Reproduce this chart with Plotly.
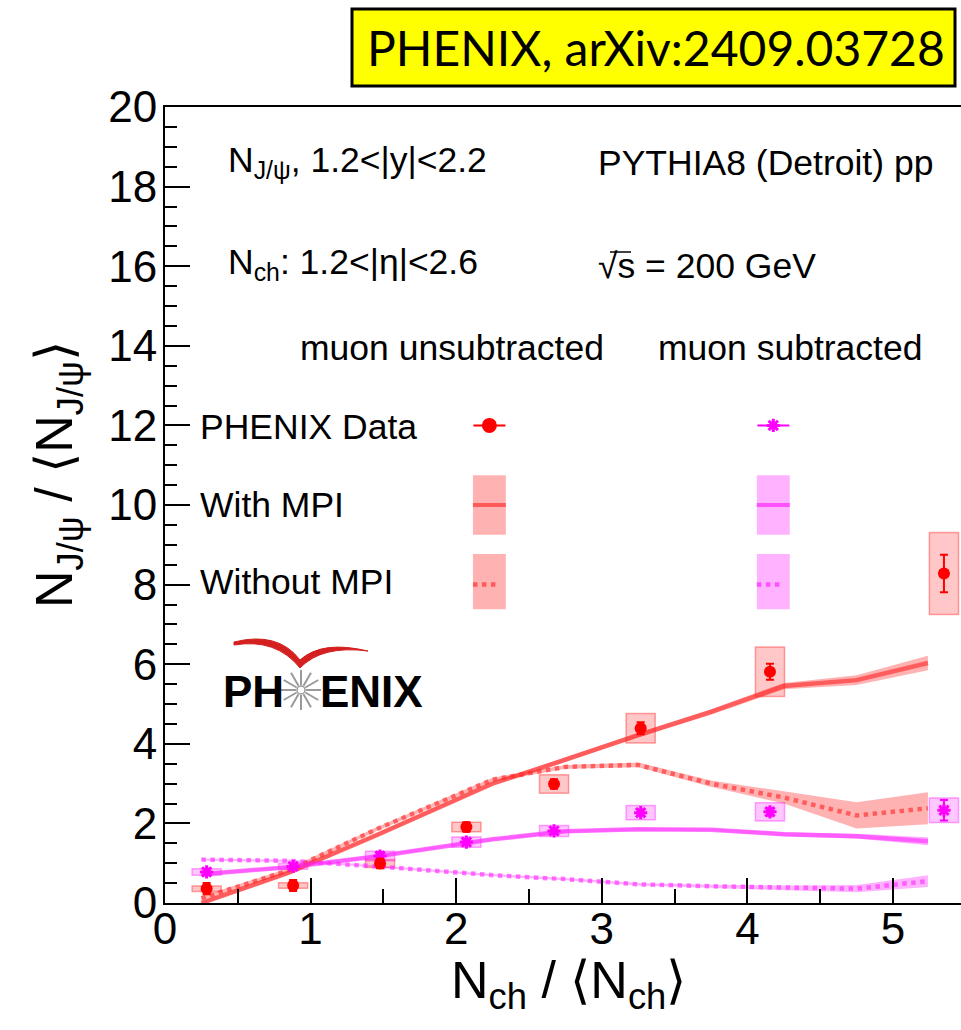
import plotly.graph_objects as go
import math

# ---------------- data ----------------
x_data = [0.286, 0.88, 1.477, 2.07, 2.672, 3.267, 4.155, 5.35]
red_y = [0.36, 0.44, 0.99, 1.91, 2.99, 4.39, 5.81, 8.28]
red_stat = [0.14, 0.14, 0.12, 0.12, 0.12, 0.15, 0.2, 0.47]
red_sys = [0.07, 0.07, 0.1, 0.12, 0.23, 0.37, 0.62, 1.03]
mag_y = [0.78, 0.92, 1.18, 1.53, 1.81, 2.27, 2.29, 2.33]
mag_stat = [0.08, 0.06, 0.1, 0.08, 0.06, 0.08, 0.1, 0.26]
mag_sys = [0.08, 0.07, 0.12, 0.13, 0.14, 0.18, 0.23, 0.31]
box_hw = 0.1

x_model = [0.25, 0.85, 1.45, 2.25, 2.75, 3.25, 3.75, 4.25, 4.75, 5.24]
red_mpi = [0.0, 0.76, 1.7, 3.0, 3.6, 4.22, 4.8, 5.45, 5.6, 6.03]
red_mpi_err = [0.05, 0.05, 0.05, 0.05, 0.06, 0.06, 0.07, 0.08, 0.12, 0.18]
red_nompi = [0.12, 0.82, 1.85, 3.1, 3.42, 3.47, 3.0, 2.65, 2.2, 2.38]
red_nompi_err = [0.05, 0.05, 0.05, 0.05, 0.05, 0.06, 0.08, 0.15, 0.33, 0.4]
mag_mpi = [0.72, 0.9, 1.17, 1.6, 1.8, 1.85, 1.84, 1.73, 1.68, 1.55]
mag_mpi_err = [0.04, 0.04, 0.04, 0.04, 0.04, 0.04, 0.04, 0.05, 0.06, 0.1]
mag_nompi = [1.09, 1.06, 0.92, 0.7, 0.6, 0.47, 0.42, 0.38, 0.36, 0.55]
mag_nompi_err = [0.03, 0.03, 0.03, 0.03, 0.03, 0.03, 0.04, 0.06, 0.09, 0.15]

x_ticks = [0, 1, 2, 3, 4, 5]
y_ticks = [0, 2, 4, 6, 8, 10, 12, 14, 16, 18, 20]

RED = "#ff0000"
MAG = "#ff00ff"
RED_LINE = "rgba(255,40,40,0.62)"
MAG_LINE = "rgba(255,40,255,0.62)"
RED_BAND = "rgba(255,0,0,0.3)"
MAG_BAND = "rgba(255,0,255,0.3)"

# plot area in pixels
L, T, W, H = 165, 107, 796, 796
XMAX = 796 / 145.6


def px(x):
    return (x - L) / W


def py(y):
    return (T + H - y) / H


fig = go.Figure()


def band(x, y, e, fillcolor):
    up = [a + b for a, b in zip(y, e)]
    lo = [a - b for a, b in zip(y, e)]
    fig.add_trace(go.Scatter(x=list(x) + list(x)[::-1], y=up + lo[::-1],
                             fill="toself", fillcolor=fillcolor,
                             line=dict(width=0), mode="lines",
                             hoverinfo="skip", showlegend=False))


band(x_model, red_nompi, red_nompi_err, RED_BAND)
band(x_model, mag_nompi, mag_nompi_err, MAG_BAND)
band(x_model, red_mpi, red_mpi_err, RED_BAND)
band(x_model, mag_mpi, mag_mpi_err, MAG_BAND)

for yv, col, dash in [(red_nompi, RED_LINE, "dot"), (mag_nompi, MAG_LINE, "dot"),
                      (red_mpi, RED_LINE, "solid"), (mag_mpi, MAG_LINE, "solid")]:
    fig.add_trace(go.Scatter(x=x_model, y=yv, mode="lines",
                             line=dict(color=col, width=4.5, dash=dash),
                             showlegend=False))

shapes = []
# systematic boxes
for xs, ys, ss, fc, lc in [(x_data, red_y, red_sys, "rgba(255,0,0,0.22)", "rgba(255,0,0,0.35)"),
                           (x_data, mag_y, mag_sys, "rgba(255,0,255,0.22)", "rgba(255,0,255,0.35)")]:
    for xv, yv, sv in zip(xs, ys, ss):
        shapes.append(dict(type="rect", xref="x", yref="y", x0=xv - box_hw, x1=xv + box_hw,
                           y0=yv - sv, y1=yv + sv, fillcolor=fc,
                           line=dict(color=lc, width=1.5), layer="below"))

fig.add_trace(go.Scatter(x=x_data, y=mag_y, mode="markers",
                         marker=dict(symbol="asterisk-open", size=11, color=MAG,
                                     line=dict(color=MAG, width=3)),
                         error_y=dict(type="data", array=mag_stat, color=MAG, thickness=2, width=4),
                         showlegend=False))
fig.add_trace(go.Scatter(x=x_data, y=red_y, mode="markers",
                         marker=dict(symbol="circle", size=12, color=RED),
                         error_y=dict(type="data", array=red_stat, color=RED, thickness=2, width=4),
                         showlegend=False))

# ---------------- legend keys ----------------
leg_x = [2.228, 4.178]
leg_cols = [(RED, "rgba(255,0,0,0.3)", "rgba(255,60,60,0.75)"),
            (MAG, "rgba(255,0,255,0.3)", "rgba(255,40,255,0.7)")]
for lx, (mc, fc, lc) in zip(leg_x, leg_cols):
    fig.add_trace(go.Scatter(x=[lx], y=[12.0], mode="markers",
                             marker=dict(symbol="circle" if mc == RED else "asterisk-open",
                                         size=12 if mc == RED else 11, color=mc,
                                         line=dict(color=mc, width=3)),
                             error_x=dict(type="constant", value=0.11, color=mc, thickness=2, width=0),
                             showlegend=False))
    shapes.append(dict(type="rect", xref="x", yref="y", x0=lx - 0.113, x1=lx + 0.113,
                       y0=9.25, y1=10.75, fillcolor=fc, line=dict(width=0), layer="below"))
    shapes.append(dict(type="line", xref="x", yref="y", x0=lx - 0.113, x1=lx + 0.113,
                       y0=10.0, y1=10.0, line=dict(color=lc, width=4)))
    shapes.append(dict(type="rect", xref="x", yref="y", x0=lx - 0.113, x1=lx + 0.113,
                       y0=7.38, y1=8.77, fillcolor=fc, line=dict(width=0), layer="below"))
    shapes.append(dict(type="line", xref="x", yref="y", x0=lx - 0.113, x1=lx + 0.05,
                       y0=8.0, y1=8.0, line=dict(color=lc, width=4.5, dash="dot")))

# title box
shapes.append(dict(type="rect", xref="paper", yref="paper",
                   x0=px(352), x1=px(955), y0=py(86), y1=py(9),
                   fillcolor="#ffff00", line=dict(color="black", width=3)))

# overline of the square root (sqrt s)
shapes.append(dict(type="line", xref="paper", yref="paper",
                   x0=px(610), x1=px(631), y0=py(252), y1=py(252),
                   line=dict(color="black", width=1.5)))

# PHENIX logo: star burst
cx, cy = 301, 690
star = ""
for k in range(12):
    a = math.pi * k / 6
    x1, y1 = cx + 5 * math.cos(a), cy + 5 * math.sin(a)
    x2, y2 = cx + 20 * math.cos(a), cy + 20 * math.sin(a)
    star += f"M {px(x1):.5f},{py(y1):.5f} L {px(x2):.5f},{py(y2):.5f} "
shapes.append(dict(type="path", xref="paper", yref="paper", path=star,
                   line=dict(color="#9a9a9a", width=2)))
shapes.append(dict(type="circle", xref="paper", yref="paper",
                   x0=px(cx - 4), x1=px(cx + 4), y0=py(cy + 4), y1=py(cy - 4),
                   line=dict(color="#9a9a9a", width=1.5)))


def P(x, y):
    return f"{px(x):.5f},{py(y):.5f}"


swoosh = (f"M {P(234,642)} Q {P(278,631)} {P(300,660)} Q {P(322,640)} {P(368,651)} "
          f"Q {P(322,645)} {P(300,668)} Q {P(276,638)} {P(234,645)} Z")
shapes.append(dict(type="path", xref="paper", yref="paper", path=swoosh,
                   fillcolor="#d42020", line=dict(color="#d42020", width=1)))

# ---------------- annotations ----------------
TXT = dict(family="Liberation Sans, Arial, sans-serif", size=35.5, color="black")
ann = []


def text(t, x, y, xanchor="left", font=TXT, **kw):
    ann.append(dict(text=t, x=px(x), y=py(y), xref="paper", yref="paper",
                    xanchor=xanchor, yanchor="middle", showarrow=False, font=font, **kw))


text("N<sub>J/ψ</sub>, 1.2&lt;|y|&lt;2.2", 226, 162)
text("PYTHIA8 (Detroit) pp", 596, 163)
text("N<sub>ch</sub>: 1.2&lt;|η|&lt;2.6", 226, 264)
text("√s = 200 GeV", 596, 266)
text("muon unsubtracted", 452, 348, xanchor="center")
text("muon subtracted", 790, 348, xanchor="center")
text("PHENIX Data", 198, 427)
text("With MPI", 198, 505)
text("Without MPI", 198, 582)

LOGO = dict(family="Liberation Sans, Arial, sans-serif", size=44, color="black")
text("<b>PH</b>", 221, 691, font=LOGO)
text("<b>ENIX</b>", 318, 691, font=LOGO)

text("PHENIX, arXiv:2409.03728", 656, 48, xanchor="center",
     font=dict(family="Lato, sans-serif", size=48, color="black"))

AX = dict(family="Liberation Sans, Arial, sans-serif", size=52, color="black")
text("N<sub>J/ψ</sub> / ⟨N<sub>J/ψ</sub>⟩", 58, 475, xanchor="center", font=AX, textangle=-90)
text("N<sub>ch</sub> / ⟨N<sub>ch</sub>⟩", 568, 984, xanchor="center", font=AX)

TICKF = dict(family="Liberation Sans, Arial, sans-serif", size=44, color="black")

fig.update_layout(
    width=961, height=1030,
    margin=dict(l=L, r=0, t=T, b=1030 - T - H, pad=0),
    paper_bgcolor="white", plot_bgcolor="white",
    shapes=shapes, annotations=ann,
    showlegend=False,
    xaxis=dict(range=[0, XMAX], tickvals=x_ticks, ticktext=[str(v) for v in x_ticks],
               ticks="inside", ticklen=25, tickwidth=2, tickcolor="black",
               minor=dict(dtick=0.5, tick0=0, ticks="inside", ticklen=14, tickwidth=2, tickcolor="black"),
               showline=True, linecolor="black", linewidth=2, mirror=True,
               showgrid=False, zeroline=False, tickfont=TICKF, ticklabelstandoff=-14),
    yaxis=dict(range=[0, 20], tickvals=y_ticks, ticktext=[str(v) for v in y_ticks],
               ticks="inside", ticklen=25, tickwidth=2, tickcolor="black",
               minor=dict(dtick=0.5, tick0=0, ticks="inside", ticklen=12, tickwidth=2, tickcolor="black"),
               showline=True, linecolor="black", linewidth=2, mirror=False,
               showgrid=False, zeroline=False, tickfont=TICKF, ticklabelstandoff=-3),
)

fig.write_html("out.html")
